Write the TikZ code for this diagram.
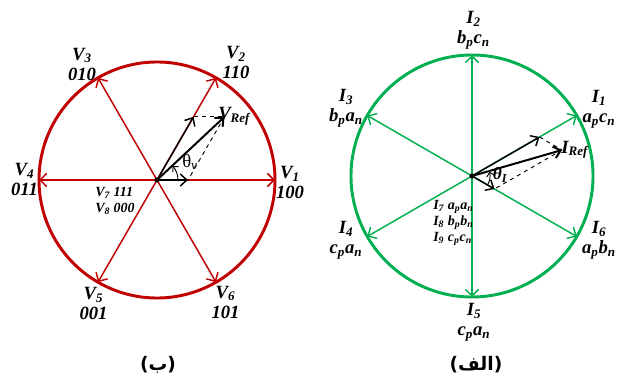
\documentclass[tikz,border=0pt]{standalone}
\usepackage{fontspec}
\setmainfont{Liberation Serif}
\newfontfamily\arabicfont[Script=Arabic]{DejaVu Sans}
\newfontfamily\parenfont{DejaVu Sans}
\TeXXeTstate=1
\usetikzlibrary{arrows.meta, calc}
\definecolor{cred}{HTML}{C00000}
\definecolor{cgreen}{HTML}{00B050}
\newcommand{\sbs}[1]{\textsubscript{#1}}
\tikzset{
  every picture/.style={x=0.75pt, y=0.75pt},
  rim/.style={draw=#1, line width=2.2pt},
  spoke/.style={draw=#1, line width=1.1pt, {Straight Barb[length=5pt, width=10pt]}-{Straight Barb[length=5pt, width=10pt]}},
  refvec/.style={draw=black, line width=1.5pt, -{Straight Barb[length=5pt, width=9pt]}},
  part/.style={draw=black, line width=1.1pt, -{Straight Barb[length=5pt, width=9pt]}},
  proj/.style={draw=black, line width=0.7pt, dashed},
  angarc/.style={draw=black, line width=0.7pt, -{Straight Barb[length=3pt, width=6pt]}},
  lab/.style={font=\fontsize{14}{15}\selectfont\bfseries\itshape, align=center, inner sep=0pt},
  small/.style={font=\fontsize{10.5}{12}\selectfont\bfseries\itshape, align=left, inner sep=0pt},
  captxt/.style={font=\fontsize{14}{16}\selectfont\parenfont\bfseries, inner sep=0pt},
}

\begin{document}
\begin{tikzpicture}
  \useasboundingbox (0,0) rectangle (624,-381);
  % voltage vectors
  \begin{scope}[shift={(157,-180)}]
    \coordinate (O) at (0,0);
    \foreach \k in {1,...,6}
      \coordinate (V\k) at ({60*(\k-1)}:118);
    \draw[rim=cred] (O) circle[radius=118];
    \draw[spoke=cred] (V1) -- (V4);
    \draw[spoke=cred] (V2) -- (V5);
    \draw[spoke=cred] (V3) -- (V6);
    \coordinate (Va) at (0:31);
    \coordinate (Vb) at (60:73);
    \coordinate (Vt) at ($(Va)+(Vb)$);
    \draw[proj] (Vb) -- (Vt);
    \draw[proj] (Vt) -- (Va);
    \draw[part] (O) -- (Va);
    \draw[part] (O) -- (Vb);
    \draw[refvec] (O) -- (Vt);
    \draw[angarc] (0:21) arc[start angle=0, end angle=42, radius=21];
    \fill (O) circle[radius=2.6];
    \node[lab] (lv1) at (133,-2.5) {V\sbs{1}\\100};
    \node[lab] (lv2) at (79,117.5) {V\sbs{2}\\110};
    \node[lab] (lv3) at (-75,116) {V\sbs{3}\\010};
    \node[lab] (lv4) at (-132.5,0.5) {V\sbs{4}\\011};
    \node[lab] (lv5) at (-63.5,-123.5) {V\sbs{5}\\001};
    \node[lab] (lv6) at (68.5,-122) {V\sbs{6}\\101};
    \node[small] (lv0) at (-42,-21) {V\sbs{7} 111\\V\sbs{8} 000};
    \node[lab, anchor=base west] (lvref) at (61,60) {V\sbs{Ref}};
    \node[font=\fontsize{14}{14}\selectfont, inner sep=0pt] (lthv) at (33,18) {θ\sbs{\itshape v}};
  \end{scope}
  % current vectors
  \begin{scope}[shift={(472,-176)}]
    \coordinate (C) at (0,0);
    \foreach \k in {1,...,6}
      \coordinate (I\k) at ({60*(\k-1)+30}:121);
    \draw[rim=cgreen] (C) circle[radius=121];
    \draw[spoke=cgreen] (I1) -- (I4);
    \draw[spoke=cgreen] (I2) -- (I5);
    \draw[spoke=cgreen] (I3) -- (I6);
    \coordinate (Ia) at (30:78);
    \coordinate (Ib) at (-30:26);
    \coordinate (It) at ($(Ia)+(Ib)$);
    \draw[proj] (Ia) -- (It);
    \draw[proj] (It) -- (Ib);
    \draw[part] (C) -- (Ia);
    \draw[part] (C) -- (Ib);
    \draw[refvec] (C) -- (It);
    \draw[angarc] (-30:18) arc[start angle=-30, end angle=14, radius=18];
    \fill (C) circle[radius=2.6];
    \node[lab] (li1) at (127,66.5) {I\sbs{1}\\a\sbs{p}c\sbs{n}};
    \node[lab] (li2) at (1.5,145.5) {I\sbs{2}\\b\sbs{p}c\sbs{n}};
    \node[lab] (li3) at (-126,67.5) {I\sbs{3}\\b\sbs{p}a\sbs{n}};
    \node[lab] (li4) at (-126,-64) {I\sbs{4}\\c\sbs{p}a\sbs{n}};
    \node[lab] (li5) at (2,-146) {I\sbs{5}\\c\sbs{p}a\sbs{n}};
    \node[lab] (li6) at (127,-64) {I\sbs{6}\\a\sbs{p}b\sbs{n}};
    \node[small, anchor=west] (li0) at (-39,-47) {I\sbs{7} a\sbs{p}a\sbs{n}\\I\sbs{8} b\sbs{p}b\sbs{n}\\I\sbs{9} c\sbs{p}c\sbs{n}};
    \node[lab, anchor=base west] (liref) at (89,23) {I\sbs{Ref}};
    \node[font=\fontsize{13}{13}\selectfont\bfseries\itshape, inner sep=0pt] (lthi) at (28,1) {θ\sbs{I}};
  \end{scope}
  % captions
  \node[captxt] (capb) at (158,-365) {({\arabicfont\bfseries\beginR ب\endR})};
  \node[captxt] (capa) at (476,-365) {({\arabicfont\bfseries\beginR الف\endR})};
\end{tikzpicture}
\end{document}
